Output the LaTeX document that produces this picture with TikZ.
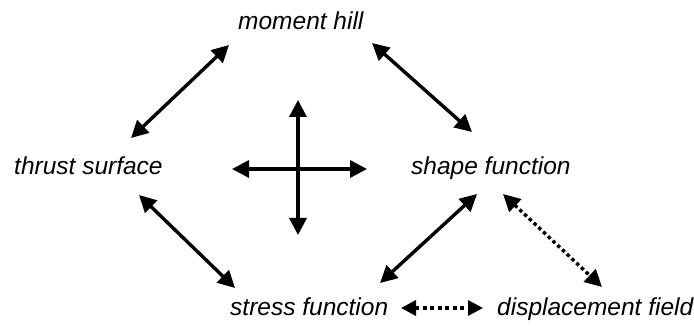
\documentclass[tikz,border=0pt]{standalone}
\usepackage{fontspec}
\setmainfont{Liberation Sans}
\usetikzlibrary{arrows.meta}
\begin{document}
\begin{tikzpicture}[x=1pt,y=-1pt,
  lbl/.style={anchor=base west,inner sep=0pt,font=\fontsize{24.5}{28}\selectfont\itshape},
  dbl/.style={line width=3.4pt,{Triangle[length=17pt,width=17pt]}-{Triangle[length=17pt,width=17pt]}},
  dotl/.style={dbl,dash pattern=on 3.5pt off 3pt},
  dots/.style={line width=3.4pt,dash pattern=on 4pt off 3.5pt,{Triangle[length=15pt,width=15pt]}-{Triangle[length=15pt,width=15pt]}}]
\useasboundingbox (0,0) rectangle (694,326);
\node[lbl] (mh) at (238,30) {moment hill};
\node[lbl] (ts) at (14,175) {thrust surface};
\node[lbl] (sf) at (411,175) {shape function};
\node[lbl] (st) at (230,315) {stress function};
\node[lbl] (df) at (497,315) {displacement field};
% arrow end points
\coordinate (a1) at (131,138); \coordinate (a2) at (229,45);
\coordinate (b1) at (372,43); \coordinate (b2) at (472,132);
\coordinate (c1) at (139,195); \coordinate (c2) at (235,288);
\coordinate (d1) at (477,194); \coordinate (d2) at (380,283);
\coordinate (e1) at (503,194); \coordinate (e2) at (602,287);
\coordinate (f1) at (401,308); \coordinate (f2) at (483,308);
\coordinate (v1) at (298,100); \coordinate (v2) at (298,235);
\coordinate (h1) at (232,169); \coordinate (h2) at (367,169);
\draw[dbl] (a1) -- (a2);
\draw[dbl] (b1) -- (b2);
\draw[dbl] (c1) -- (c2);
\draw[dbl] (d1) -- (d2);
\draw[dotl] (e1) -- (e2);
\draw[dots] (f1) -- (f2);
\draw[dbl] (v1) -- (v2);
\draw[dbl] (h1) -- (h2);
\end{tikzpicture}
\end{document}
